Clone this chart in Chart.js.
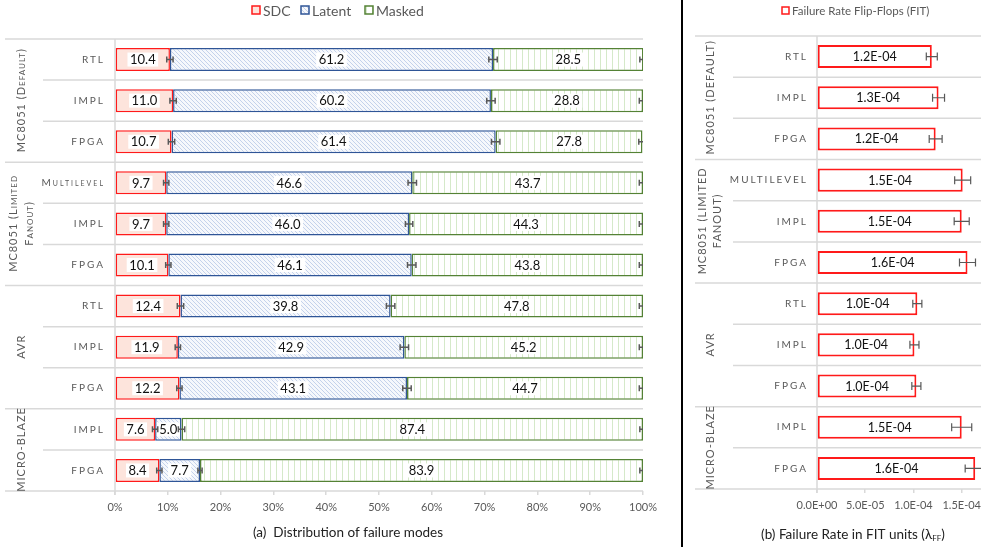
<!DOCTYPE html>
<html>
<head>
<meta charset="utf-8">
<script src="https://cdn.jsdelivr.net/npm/chart.js@4.4.1/dist/chart.umd.min.js"></script>
<style>
  html, body { margin: 0; padding: 0; background: #fff; }
  #wrap { position: relative; width: 989px; height: 547px; overflow: hidden; background: #fff; }
  #left { position: absolute; left: 0; top: 0; }
  #right { position: absolute; left: 683px; top: 0; }
  #divider { position: absolute; left: 681px; top: 0; width: 2px; height: 547px; background: #000; }
</style>
</head>
<body>
<div id="wrap">
  <canvas id="left" width="680" height="547"></canvas>
  <div id="divider"></div>
  <canvas id="right" width="306" height="547"></canvas>
</div>
<script>
// ---- data ----
const rowLabels      = ['RTL', 'IMPL', 'FPGA', 'Multilevel', 'IMPL', 'FPGA', 'RTL', 'IMPL', 'FPGA', 'IMPL', 'FPGA'];
const rowLabelsUpper = ['RTL', 'IMPL', 'FPGA', 'MULTILEVEL', 'IMPL', 'FPGA', 'RTL', 'IMPL', 'FPGA', 'IMPL', 'FPGA'];
const groupLabels      = [['MC8051 (Default)'], ['MC8051 (Limited', 'Fanout)'], ['AVR'], ['MICRO-BLAZE']];
const groupLabelsUpper = [['MC8051 (DEFAULT)'], ['MC8051 (LIMITED', 'FANOUT)'], ['AVR'], ['MICRO-BLAZE']];
const groupSizes = [3, 3, 3, 2];

const seriesNames = ['SDC', 'Latent', 'Masked'];
const sdc    = [10.4, 11.0, 10.7, 9.7, 9.7, 10.1, 12.4, 11.9, 12.2, 7.6, 8.4];
const latent = [61.2, 60.2, 61.4, 46.6, 46.0, 46.1, 39.8, 42.9, 43.1, 5.0, 7.7];
const masked = [28.5, 28.8, 27.8, 43.7, 44.3, 43.8, 47.8, 45.2, 44.7, 87.4, 83.9];
const sdcErr    = [0.6, 0.6, 0.6, 0.5, 0.5, 0.5, 0.6, 0.5, 0.5, 0.5, 0.5];
const latentErr = [0.8, 0.8, 0.8, 0.8, 0.7, 0.8, 0.8, 0.8, 0.8, 0.6, 0.4];
const maskedErr = [0.7, 0.7, 0.7, 0.7, 0.7, 0.7, 0.7, 0.7, 0.7, 0.6, 0.6];
const pctTicks = [0, 10, 20, 30, 40, 50, 60, 70, 80, 90, 100];

const fitName = 'Failure Rate Flip-Flops (FIT)';
const fitRate = [1.19e-4, 1.26e-4, 1.23e-4, 1.51e-4, 1.50e-4, 1.56e-4, 1.04e-4, 1.01e-4, 1.03e-4, 1.50e-4, 1.64e-4];
const fitErr  = [5.7e-6, 6.2e-6, 6.7e-6, 8.3e-6, 7.8e-6, 8.3e-6, 4.7e-6, 4.7e-6, 4.7e-6, 10.4e-6, 10.4e-6];
const fitTicks = [0, 5e-5, 1e-4, 1.5e-4];

const captionA = '(a)  Distribution of failure modes';
const captionB = '(b) Failure Rate in FIT units (λ';

// ---- helpers ----
const FONT = 'Lato, "Open Sans", sans-serif';
const GRAY = '#595959';
const LINE = '#d9d9d9';

function fmtE(v) {
  const [m, e] = v.toExponential(1).split('e');
  const n = parseInt(e, 10);
  return m + 'E' + (n < 0 ? '-' : '+') + String(Math.abs(n)).padStart(2, '0');
}

function diagPattern() {
  const c = document.createElement('canvas');
  c.width = c.height = 4;
  const g = c.getContext('2d');
  g.fillStyle = '#f6f8fc';
  g.fillRect(0, 0, 4, 4);
  g.strokeStyle = '#c4d2eb';
  g.lineWidth = 1;
  g.beginPath();
  g.moveTo(-1, -1); g.lineTo(5, 5);
  g.moveTo(-1, 3); g.lineTo(1, 5);
  g.moveTo(3, -1); g.lineTo(5, 1);
  g.stroke();
  return g.createPattern(c, 'repeat');
}

function vertPattern() {
  const c = document.createElement('canvas');
  c.width = 6; c.height = 6;
  const g = c.getContext('2d');
  g.fillStyle = '#ffffff';
  g.fillRect(0, 0, 6, 6);
  g.fillStyle = '#d5e9c9';
  g.fillRect(0, 0, 1, 6);
  return g.createPattern(c, 'repeat');
}

const latentFill = diagPattern();
const maskedFill = vertPattern();

// row boundary pixels from a category scale
function boundaries(y, n) {
  const step = y.getPixelForValue(1) - y.getPixelForValue(0);
  const out = [];
  for (let i = 0; i <= n; i++) out.push(y.getPixelForValue(0) - step / 2 + i * step);
  return out;
}

function groupStartSet() {
  const s = new Set([0]);
  let acc = 0;
  groupSizes.forEach(g => { acc += g; s.add(acc); });
  return s;
}

function drawFrame(chart, groupX0, rowX0) {
  const { ctx, chartArea: a, scales: { y } } = chart;
  const n = rowLabels.length;
  const b = boundaries(y, n);
  const gs = groupStartSet();
  ctx.save();
  ctx.strokeStyle = LINE;
  ctx.lineWidth = 1.5;
  b.forEach((py, i) => {
    ctx.beginPath();
    ctx.moveTo(gs.has(i) ? groupX0 : rowX0, py);
    ctx.lineTo(a.right, py);
    ctx.stroke();
  });
  ctx.beginPath();
  ctx.moveTo(a.left, b[0]);
  ctx.lineTo(a.left, b[n] + 4);
  ctx.stroke();
  ctx.restore();
}

function drawRowAndGroupLabels(chart, labels, groups, labelRight, groupX, lineGap, caps) {
  const { ctx, scales: { y } } = chart;
  const n = labels.length;
  const b = boundaries(y, n);
  ctx.save();
  ctx.fillStyle = GRAY;
  ctx.textBaseline = 'middle';
  ctx.textAlign = 'right';
  ctx.font = (caps ? 'small-caps ' : '') + '10px ' + FONT;
  ctx.letterSpacing = '2px';
  labels.forEach((t, i) => ctx.fillText(t, labelRight + 2, y.getPixelForValue(i)));

  ctx.font = (caps ? 'small-caps ' : '') + '11px ' + FONT;
  ctx.letterSpacing = '1px';
  ctx.textAlign = 'center';
  let start = 0;
  groups.forEach((lines, gi) => {
    const y0 = b[start], y1 = b[start + groupSizes[gi]];
    const yc = (y0 + y1) / 2;
    lines.forEach((ln, li) => {
      const off = (li - (lines.length - 1) / 2) * lineGap;
      ctx.save();
      ctx.translate(groupX + off, yc);
      ctx.rotate(-Math.PI / 2);
      ctx.fillText(ln, 0.5, 0);
      ctx.restore();
    });
    start += groupSizes[gi];
  });
  ctx.restore();
}

function drawErrorBar(ctx, x, lo, hi, py, cap) {
  const xl = x.getPixelForValue(lo), xr = x.getPixelForValue(hi);
  ctx.beginPath();
  ctx.moveTo(xl, py); ctx.lineTo(xr, py);
  ctx.moveTo(xl, py - cap); ctx.lineTo(xl, py + cap);
  ctx.moveTo(xr, py - cap); ctx.lineTo(xr, py + cap);
  ctx.stroke();
}

// ---- left panel: distribution of failure modes ----
const leftDecor = {
  id: 'leftDecor',
  beforeDatasetsDraw(chart) {
    drawFrame(chart, 5, 43);
  },
  afterDatasetsDraw(chart) {
    const { ctx, chartArea: a, scales: { x } } = chart;
    // value labels on white boxes
    ctx.save();
    ctx.font = '13px ' + FONT;
    ctx.textAlign = 'center';
    ctx.textBaseline = 'middle';
    chart.data.datasets.forEach((ds, di) => {
      chart.getDatasetMeta(di).data.forEach((el, i) => {
        const cx = (el.x + el.base) / 2;
        const t = ds.data[i].toFixed(1);
        const w = ctx.measureText(t).width + 5;
        ctx.fillStyle = '#ffffff';
        ctx.fillRect(cx - w / 2, el.y - 7, w, 14);
        ctx.fillStyle = '#111111';
        ctx.fillText(t, cx, el.y + 0.5);
      });
    });
    ctx.restore();
    // error bars at the end of each stacked segment
    ctx.save();
    ctx.beginPath();
    ctx.rect(a.left, a.top, a.right - a.left, a.bottom - a.top);
    ctx.clip();
    ctx.strokeStyle = GRAY;
    ctx.lineWidth = 1.5;
    const errs = [sdcErr, latentErr, maskedErr];
    const vals = [sdc, latent, masked];
    const meta0 = chart.getDatasetMeta(0).data;
    for (let i = 0; i < sdc.length; i++) {
      let cum = 0;
      for (let d = 0; d < 3; d++) {
        cum += vals[d][i];
        drawErrorBar(ctx, x, cum - errs[d][i], cum + errs[d][i], meta0[i].y, 3);
      }
    }
    ctx.restore();
  },
  afterDraw(chart) {
    const { ctx } = chart;
    drawRowAndGroupLabels(chart, rowLabels, groupLabels, 103, 21, 16, true);
    // legend
    ctx.save();
    ctx.font = '14px ' + FONT;
    ctx.textBaseline = 'middle';
    ctx.textAlign = 'left';
    const items = [
      { x: 252, fill: '#fde4dc', stroke: '#ff1a1a', text: seriesNames[0] },
      { x: 301, fill: latentFill, stroke: '#2f5597', text: seriesNames[1] },
      { x: 365, fill: maskedFill, stroke: '#548235', text: seriesNames[2] }
    ];
    items.forEach(it => {
      ctx.fillStyle = it.fill;
      ctx.fillRect(it.x, 6, 8, 8);
      ctx.strokeStyle = it.stroke;
      ctx.lineWidth = 1.5;
      ctx.strokeRect(it.x, 6, 8, 8);
      ctx.fillStyle = GRAY;
      ctx.fillText(it.text, it.x + 11, 11);
    });
    // caption
    ctx.font = '13.5px ' + FONT;
    ctx.fillStyle = '#222222';
    ctx.textAlign = 'center';
    ctx.fillText(captionA, 348, 533);
    ctx.restore();
  }
};

new Chart(document.getElementById('left'), {
  type: 'bar',
  data: {
    labels: rowLabels,
    datasets: [
      { label: seriesNames[0], data: sdc, backgroundColor: '#fde4dc', borderColor: '#ff1a1a', borderWidth: 1.5, borderSkipped: false },
      { label: seriesNames[1], data: latent, backgroundColor: latentFill, borderColor: '#2f5597', borderWidth: 1.5, borderSkipped: false },
      { label: seriesNames[2], data: masked, backgroundColor: maskedFill, borderColor: '#548235', borderWidth: 1.5, borderSkipped: false }
    ]
  },
  options: {
    indexAxis: 'y',
    responsive: false,
    animation: false,
    events: [],
    barPercentage: 0.56,
    categoryPercentage: 1,
    layout: { padding: { left: 0, right: 37, top: 39, bottom: 0 } },
    plugins: { legend: { display: false }, tooltip: { enabled: false } },
    scales: {
      x: {
        stacked: true, min: 0, max: 100,
        afterBuildTicks: s => { s.ticks = pctTicks.map(v => ({ value: v })); },
        afterFit: s => { s.height = 56; },
        grid: { drawOnChartArea: false, drawTicks: true, tickLength: 4, color: LINE, lineWidth: 1.5 },
        border: { display: false },
        ticks: { callback: v => v + '%', color: GRAY, font: { family: FONT, size: 11 }, padding: 6, maxRotation: 0, autoSkip: false }
      },
      y: {
        stacked: true,
        afterFit: s => { s.width = 115; },
        grid: { display: false },
        border: { display: false },
        ticks: { display: false }
      }
    }
  },
  plugins: [leftDecor]
});

// ---- right panel: failure rate ----
const rightDecor = {
  id: 'rightDecor',
  beforeDatasetsDraw(chart) {
    drawFrame(chart, 12, 50);
  },
  afterDatasetsDraw(chart) {
    const { ctx, chartArea: a, scales: { x } } = chart;
    const els = chart.getDatasetMeta(0).data;
    ctx.save();
    ctx.font = '12.5px ' + FONT;
    ctx.textAlign = 'center';
    ctx.textBaseline = 'middle';
    ctx.fillStyle = '#111111';
    els.forEach((el, i) => ctx.fillText(fmtE(fitRate[i]), (el.x + el.base) / 2, el.y + 0.5));
    ctx.restore();
    ctx.save();
    ctx.beginPath();
    ctx.rect(a.left, a.top, a.right - a.left, a.bottom - a.top);
    ctx.clip();
    ctx.strokeStyle = GRAY;
    ctx.lineWidth = 1.2;
    els.forEach((el, i) => drawErrorBar(ctx, x, fitRate[i] - fitErr[i], fitRate[i] + fitErr[i], el.y, 4));
    ctx.restore();
  },
  afterDraw(chart) {
    const { ctx } = chart;
    drawRowAndGroupLabels(chart, rowLabelsUpper, groupLabelsUpper, 123, 27, 15, false);
    ctx.save();
    // legend
    ctx.fillStyle = '#ffffff';
    ctx.fillRect(99, 7, 7, 7);
    ctx.strokeStyle = '#ff1a1a';
    ctx.lineWidth = 1.5;
    ctx.strokeRect(99, 7, 7, 7);
    ctx.font = '11.5px ' + FONT;
    ctx.fillStyle = GRAY;
    ctx.textBaseline = 'middle';
    ctx.textAlign = 'left';
    ctx.fillText(fitName, 109, 11);
    // caption with subscript
    ctx.font = '13.5px ' + FONT;
    ctx.fillStyle = '#222222';
    const sub = 'FF';
    const tail = ')';
    const w1 = ctx.measureText(captionB).width;
    ctx.font = '8px ' + FONT;
    const w2 = ctx.measureText(sub).width;
    ctx.font = '13.5px ' + FONT;
    const w3 = ctx.measureText(tail).width;
    let sx = 170 - (w1 + w2 + w3) / 2;
    ctx.fillText(captionB, sx, 535);
    sx += w1;
    ctx.font = '8px ' + FONT;
    ctx.fillText(sub, sx, 538);
    sx += w2;
    ctx.font = '13.5px ' + FONT;
    ctx.fillText(tail, sx, 535);
    ctx.restore();
  }
};

new Chart(document.getElementById('right'), {
  type: 'bar',
  data: {
    labels: rowLabelsUpper,
    datasets: [
      { label: fitName, data: fitRate, backgroundColor: '#ffffff', borderColor: '#ff1a1a', borderWidth: 2, borderSkipped: false }
    ]
  },
  options: {
    indexAxis: 'y',
    responsive: false,
    animation: false,
    events: [],
    barPercentage: 0.56,
    categoryPercentage: 1,
    layout: { padding: { left: 0, right: 8, top: 36, bottom: 0 } },
    plugins: { legend: { display: false }, tooltip: { enabled: false } },
    scales: {
      x: {
        min: 0, max: 1.7e-4,
        afterBuildTicks: s => { s.ticks = fitTicks.map(v => ({ value: v })); },
        afterFit: s => { s.height = 58; },
        grid: { drawOnChartArea: false, drawTicks: true, tickLength: 4, color: LINE, lineWidth: 1.5 },
        border: { display: false },
        ticks: { callback: v => fmtE(v), color: GRAY, font: { family: FONT, size: 11 }, padding: 6, maxRotation: 0, autoSkip: false }
      },
      y: {
        afterFit: s => { s.width = 134; },
        grid: { display: false },
        border: { display: false },
        ticks: { display: false }
      }
    }
  },
  plugins: [rightDecor]
});
</script>
</body>
</html>
